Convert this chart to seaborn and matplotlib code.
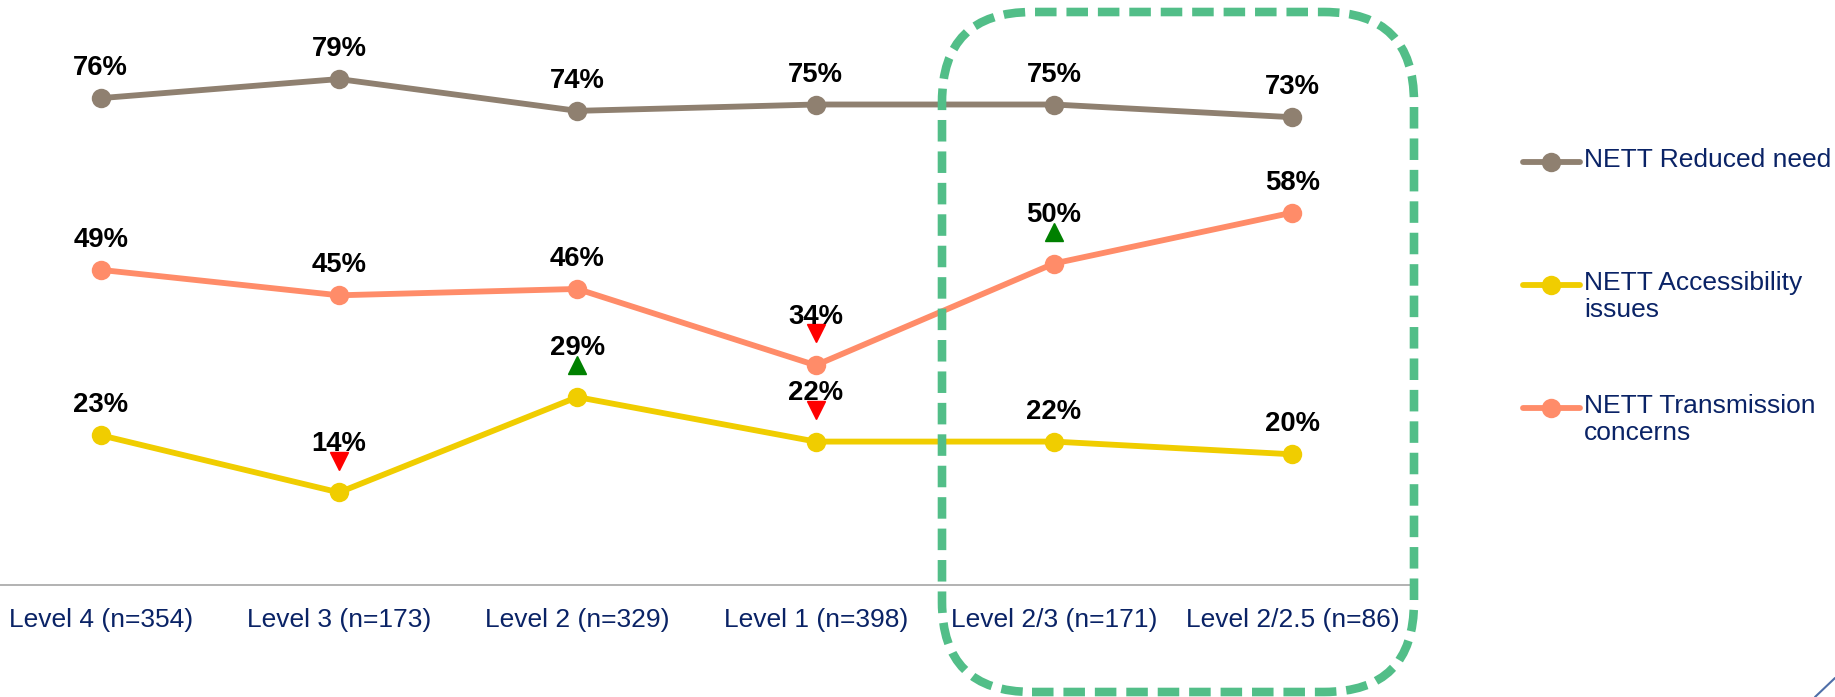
import matplotlib
matplotlib.use("Agg")
import matplotlib.pyplot as plt
import matplotlib.transforms as mtransforms
from matplotlib.patches import FancyBboxPatch
from matplotlib.lines import Line2D
import numpy as np
import pandas as pd
import seaborn as sns

# chart data
levels = ["Level 4 (n=354)", "Level 3 (n=173)", "Level 2 (n=329)",
          "Level 1 (n=398)", "Level 2/3 (n=171)", "Level 2/2.5 (n=86)"]
series_names = ["NETT Reduced need", "NETT Accessibility issues", "NETT Transmission concerns"]
legend_labels = ["NETT Reduced need", "NETT Accessibility\nissues", "NETT Transmission\nconcerns"]
reduced_need = [76, 79, 74, 75, 75, 73]
accessibility = [23, 14, 29, 22, 22, 20]
transmission = [49, 45, 46, 34, 50, 58]
# significance arrows shown above the point
reduced_sig = ["", "", "", "", "", ""]
accessibility_sig = ["", "down", "up", "down", "", ""]
transmission_sig = ["", "", "", "down", "up", ""]

colors = {"NETT Reduced need": "#8F8070",
          "NETT Accessibility issues": "#F0CD00",
          "NETT Transmission concerns": "#FF8C69"}
navy = "#0A2366"

sns.set_style("white")
plt.rcParams["font.family"] = ["Liberation Sans", "DejaVu Sans"]

W, H = 1835, 697
fig = plt.figure(figsize=(W / 100, H / 100), dpi=100)
# axis line at y=585 px from top, 0% at 581.5 px, 6.36 px per percent
ax = fig.add_axes([-18.5 / W, (H - 585) / H, 1430 / W, 639.5 / H])

df = pd.DataFrame({
    "level": levels * 3,
    "value": reduced_need + accessibility + transmission,
    "series": np.repeat(series_names, len(levels)),
})

sns.lineplot(data=df, x="level", y="value", hue="series", palette=colors,
             marker="o", markersize=14, linewidth=4.2, markeredgewidth=0,
             sort=False, legend=False, errorbar=None, ax=ax)

ax.set_xlim(-0.5, len(levels) - 0.5)
ax.set_ylim(-0.55, 100)
ax.set_xlabel("")
ax.set_ylabel("")
ax.set_yticks([])
for s in ["left", "top", "right"]:
    ax.spines[s].set_visible(False)
ax.spines["bottom"].set_color("#A6A6A6")
ax.spines["bottom"].set_linewidth(1.2)

ax.set_xticks(range(len(levels)))
ax.set_xticklabels(levels, fontsize=19, color=navy)
ax.set_xticks(np.arange(-0.5, len(levels)), minor=True)
ax.tick_params(axis="x", which="major", length=0, pad=16.5)
ax.tick_params(axis="x", which="minor", length=5, width=1, color="#A6A6A6", direction="out")

# value labels and significance triangles
tri_off = mtransforms.offset_copy(ax.transData, fig=fig, x=0, y=23, units="points")
for vals, sigs in [(reduced_need, reduced_sig), (accessibility, accessibility_sig),
                   (transmission, transmission_sig)]:
    for i, (v, s) in enumerate(zip(vals, sigs)):
        off = 30 if s else 16.5
        ax.annotate(f"{v}%", (i, v), xytext=(0, off), textcoords="offset points",
                    ha="center", va="baseline", fontsize=19.8, fontweight="bold",
                    color="black")
        if s == "down":
            ax.plot([i], [v], marker="v", markersize=13.5, color="#FF0000",
                    linestyle="none", transform=tri_off)
        elif s == "up":
            ax.plot([i], [v], marker="^", markersize=13.5, color="#008000",
                    linestyle="none", transform=tri_off)

# highlight box around the last two levels
box = FancyBboxPatch((942, 5), 472, 680, boxstyle="round,pad=0,rounding_size=90",
                     transform=mtransforms.IdentityTransform(), fill=False,
                     edgecolor="#52BE88", linewidth=6.2, linestyle=(0, (2.5, 1.15)))
box.set_capstyle("butt")
fig.add_artist(box)

# legend drawn on the right
row_y = [162, 285, 408]
for name, label, y in zip(series_names, legend_labels, row_y):
    fy = 1 - y / H
    fig.add_artist(Line2D([1523 / W, 1580 / W], [fy, fy], color=colors[name],
                          linewidth=4.2, transform=fig.transFigure))
    fig.add_artist(Line2D([1551 / W], [fy], marker="o", markersize=14,
                          markeredgewidth=0, color=colors[name], transform=fig.transFigure))
    fig.text(1584 / W, 1 - (y - 14) / H, label, fontsize=19, color=navy,
             ha="left", va="top", linespacing=1.15)

# slide corner decoration
fig.add_artist(Line2D([1815 / W, 1835 / W], [0, 19 / H], color="#4F6FA8",
                      linewidth=1.5, transform=fig.transFigure))

fig.savefig("out.png", dpi=100)
plt.close(fig)
